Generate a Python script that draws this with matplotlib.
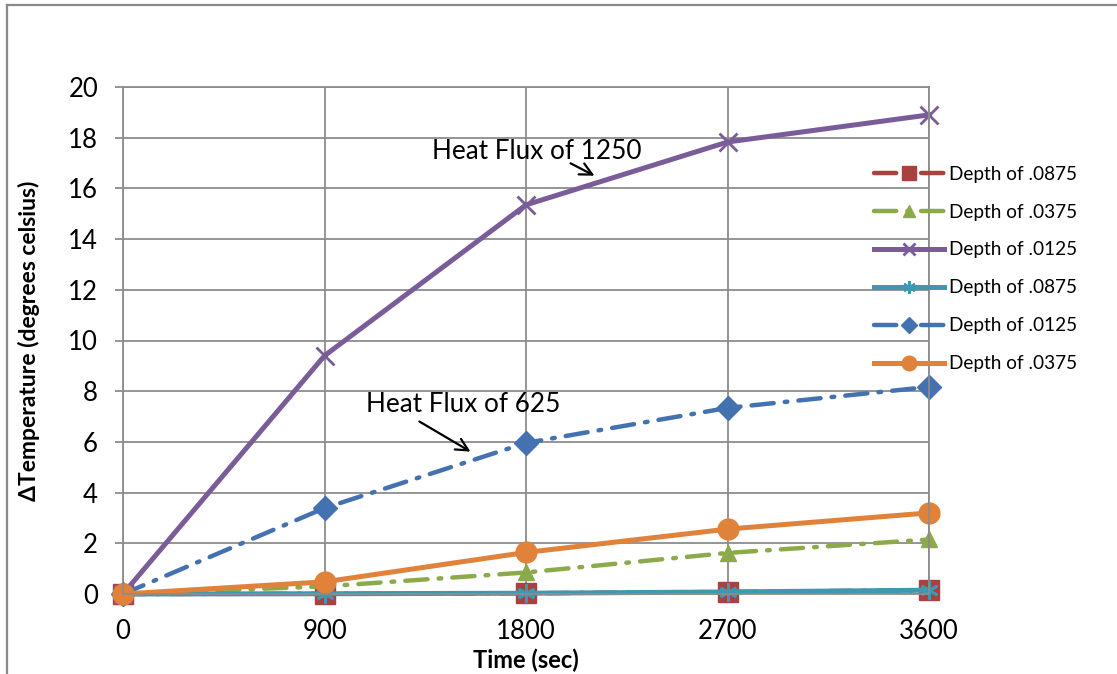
import matplotlib
matplotlib.use("Agg")
import matplotlib.pyplot as plt
from matplotlib.lines import Line2D

plt.rcParams['font.family'] = ['Lato', 'DejaVu Sans']

# 数据
times = [0, 900, 1800, 2700, 3600]

red_0875_625 = [0, 0.01, 0.03, 0.08, 0.15]
green_0375_625 = [0, 0.3, 0.85, 1.62, 2.15]
purple_0125_1250 = [0, 9.4, 15.35, 17.83, 18.9]
teal_0875_1250 = [0, 0.01, 0.03, 0.08, 0.15]
blue_0125_625 = [0, 3.39, 5.96, 7.34, 8.17]
orange_0375_1250 = [0, 0.48, 1.64, 2.56, 3.2]

W, H = 1117, 674
fig = plt.figure(figsize=(W / 100, H / 100), dpi=100)
ax = fig.add_axes([123 / W, (H - 594) / H, (929 - 123) / W, (594 - 87) / H])

dashdot = (0, (5, 2.5, 0.6, 2.5))

ax.plot(times, red_0875_625, color="#A8423F", lw=3.2, linestyle=dashdot,
        marker="s", ms=14, label="Depth of .0875", dash_capstyle="round",
        clip_on=False)
ax.plot(times, green_0375_625, color="#8CAA4A", lw=3.2, linestyle=dashdot,
        marker="^", ms=12, label="Depth of .0375", dash_capstyle="round",
        clip_on=False)
ax.plot(times, purple_0125_1250, color="#7A5C99", lw=3.6, marker="x", ms=13,
        mew=2, label="Depth of .0125", clip_on=False)
ax.plot(times, teal_0875_1250, color="#3F97B0", lw=3.6, marker=(6, 2, 0),
        ms=13, mew=2, label="Depth of .0875", clip_on=False)
ax.plot(times, blue_0125_625, color="#4472B0", lw=3.2, linestyle=dashdot,
        marker="D", ms=12, label="Depth of .0125", dash_capstyle="round",
        clip_on=False)
ax.plot(times, orange_0375_1250, color="#E0823A", lw=3.6, marker="o", ms=15,
        label="Depth of .0375", clip_on=False)

ax.set_xlim(0, 3600)
ax.set_ylim(0, 20)
ax.set_xticks(times)
ax.set_yticks(range(0, 21, 2))
ax.grid(True, color="#8c8c8c", lw=1.3)
ax.set_axisbelow(True)
for s in ax.spines.values():
    s.set_color("#8c8c8c")
    s.set_linewidth(1.3)
ax.tick_params(axis="y", length=6, width=1.3, color="#8c8c8c", pad=12,
               labelsize=18.5)
ax.tick_params(axis="x", length=0, pad=18, labelsize=18.5)

ax.set_xlabel("Time (sec)", fontsize=17, fontweight="bold", labelpad=3)
ax.set_ylabel("\u0394Temperature (degrees celsius)", fontsize=16.5,
              fontweight="bold", labelpad=20)

# 注释
ax.annotate("", xy=(2117, 16.45), xytext=(1988, 17.04),
            arrowprops=dict(arrowstyle="->", color="black", lw=1.6,
                            mutation_scale=22))
ax.text(1380, 17.44, "Heat Flux of 1250", fontsize=18.8, va="center",
        ha="left")
ax.annotate("", xy=(1563, 5.56), xytext=(1313, 6.86),
            arrowprops=dict(arrowstyle="->", color="black", lw=1.6,
                            mutation_scale=22))
ax.text(1085, 7.46, "Heat Flux of 625", fontsize=18.8, va="center",
        ha="left")

leg = ax.legend(loc="upper left", bbox_to_anchor=(866 / W, (H - 158) / H),
                bbox_transform=fig.transFigure, frameon=False, fontsize=13.7,
                handlelength=3.7, labelspacing=1.1, handletextpad=0.25,
                borderaxespad=0, markerscale=0.7)

# 外框
x0 = 7 / W
y0 = (H - 5) / H
fig.add_artist(Line2D([x0, x0], [-0.1, y0], color="#8a8a8a", lw=1.6))
fig.add_artist(Line2D([x0, 1.1], [y0, y0], color="#8a8a8a", lw=1.6))

fig.savefig("out.png", dpi=100, facecolor="white")
